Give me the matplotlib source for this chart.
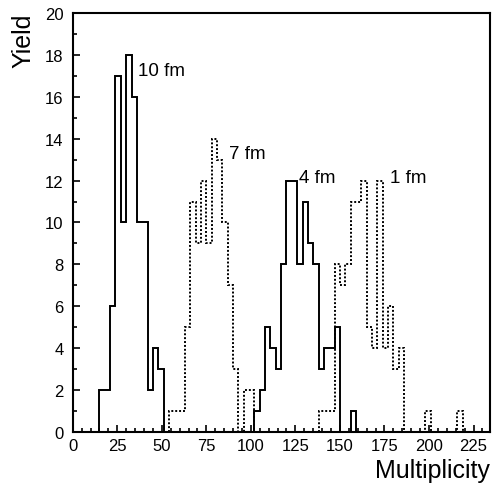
import numpy as np
import matplotlib
matplotlib.use("Agg")
from matplotlib import pyplot as plt
from matplotlib.ticker import MultipleLocator

plt.rcParams['font.family'] = ['Liberation Sans', 'DejaVu Sans']

# histogram contents, bins of width 3 in multiplicity
bin_width = 3
ten_fm_start = 15
ten_fm = [2, 2, 6, 17, 10, 18, 16, 10, 10, 2, 4, 3]
seven_fm_start = 54
seven_fm = [1, 1, 1, 5, 11, 9, 12, 9, 14, 13, 10, 7, 3, 0, 2, 2]
four_fm_start = 102
four_fm = [1, 2, 5, 4, 3, 8, 12, 12, 8, 11, 9, 8, 3, 4, 4, 5, 0, 0, 1]
one_fm_start = 138
one_fm = [1, 1, 1, 8, 7, 8, 11, 11, 12, 5, 4, 12, 4, 6, 3, 4,
          0, 0, 0, 0, 1, 0, 0, 0, 0, 0, 1]


def edges(start, counts):
    return start + bin_width * np.arange(len(counts) + 1)


fig = plt.figure(figsize=(4.92, 4.89), dpi=100)
ax = fig.add_axes([0.1478, 0.1145, 0.8472, 0.857])

solid = dict(color="black", lw=1.4)
dotted = dict(color="black", lw=1.4, linestyle=(0, (1, 1)))
ax.stairs(ten_fm, edges(ten_fm_start, ten_fm), baseline=0, **solid)
ax.stairs(four_fm, edges(four_fm_start, four_fm), baseline=0, **solid)
ax.stairs(seven_fm, edges(seven_fm_start, seven_fm), baseline=0, **dotted)
ax.stairs(one_fm, edges(one_fm_start, one_fm), baseline=0, **dotted)

ax.text(36.8, 17.25, "10 fm", fontsize=13.5, va="center", ha="left")
ax.text(87.8, 13.27, "7 fm", fontsize=13.5, va="center", ha="left")
ax.text(127.0, 12.15, "4 fm", fontsize=13.5, va="center", ha="left")
ax.text(178.3, 12.17, "1 fm", fontsize=13.5, va="center", ha="left")

ax.set_xlim(0, 234)
ax.set_ylim(0, 20)
ax.xaxis.set_major_locator(MultipleLocator(25))
ax.xaxis.set_minor_locator(MultipleLocator(5))
ax.yaxis.set_major_locator(MultipleLocator(2))
ax.yaxis.set_minor_locator(MultipleLocator(1))
ax.tick_params(which="both", direction="in", width=1.2, labelsize=12)
ax.tick_params(which="major", length=5)
ax.tick_params(which="minor", length=3)
ax.tick_params(axis="x", pad=4)
ax.tick_params(axis="y", pad=6.5)
for s in ax.spines.values():
    s.set_linewidth(1.5)

fig.text(0.047, 0.972, "Yield", rotation=90, fontsize=18, ha="center", va="top")
fig.text(0.996, 0.036, "Multiplicity", fontsize=18, ha="right", va="center")

fig.savefig("out.png", dpi=100)
